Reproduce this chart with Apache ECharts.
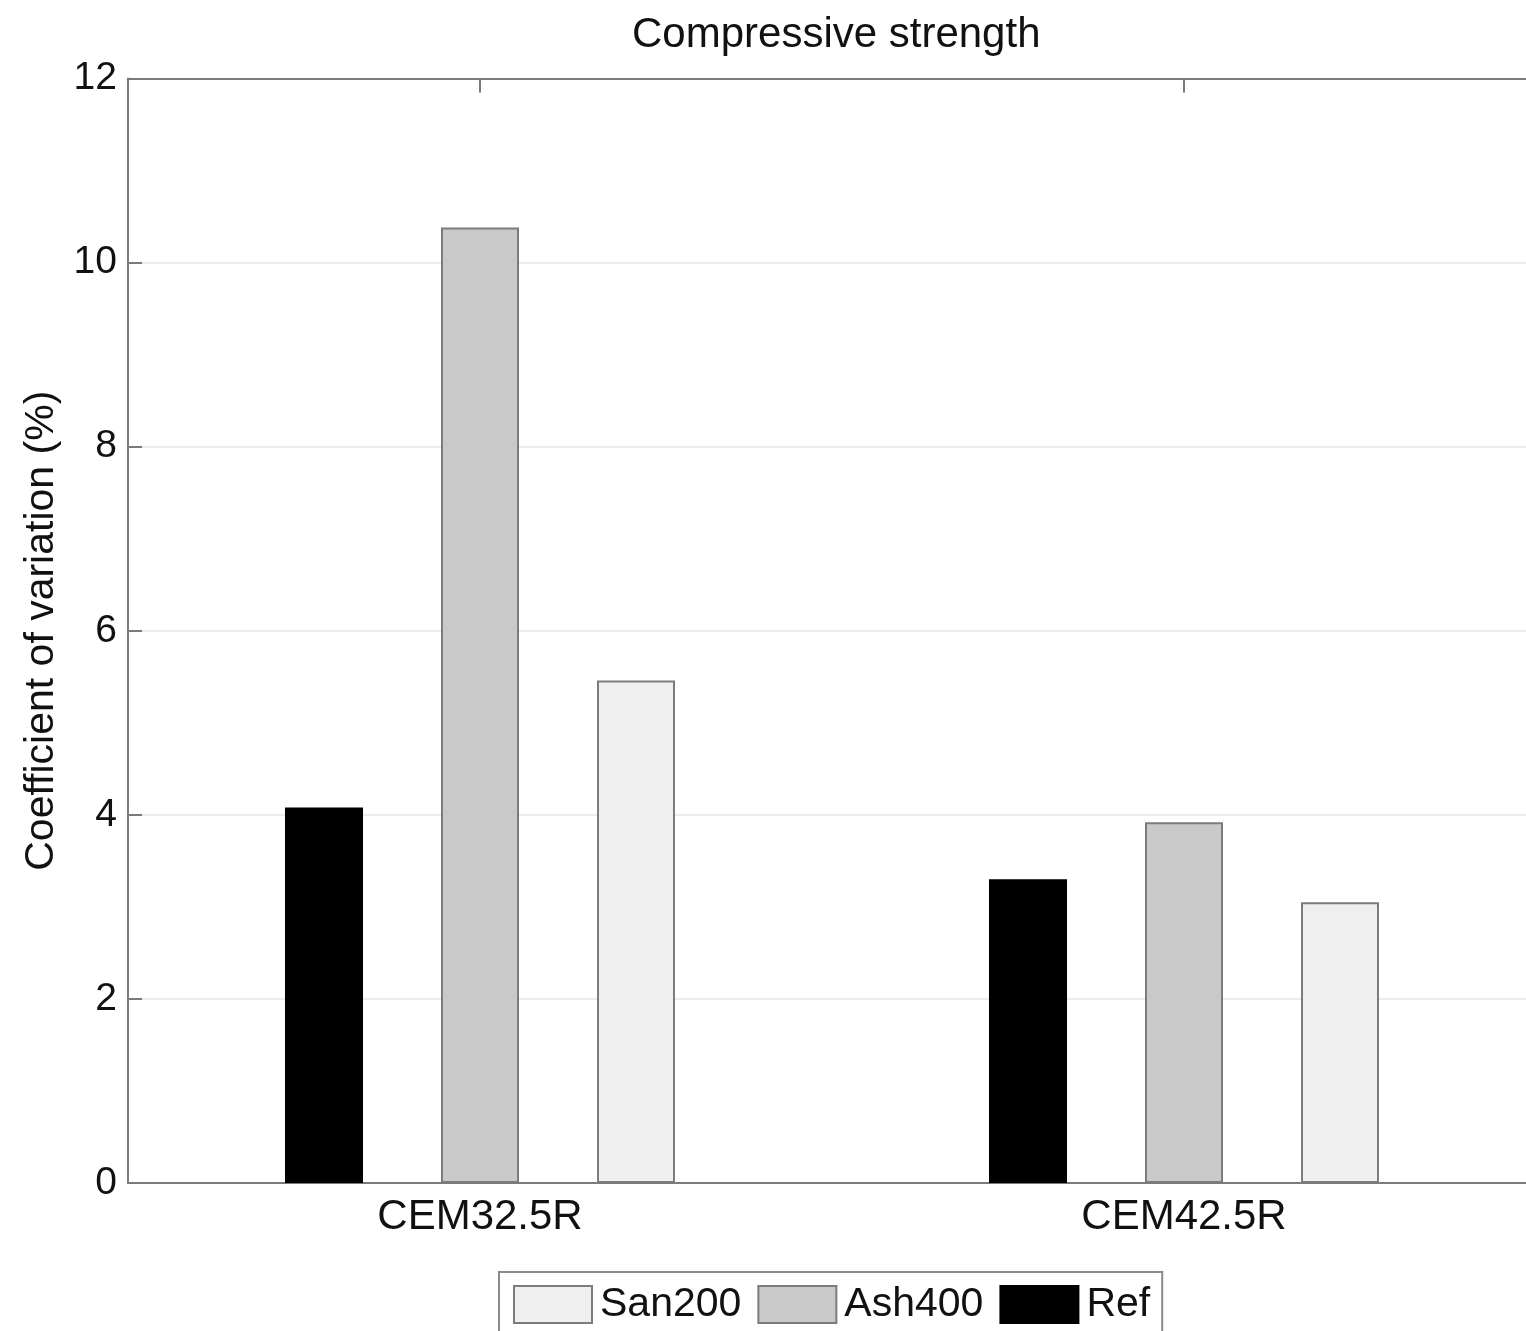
<!DOCTYPE html>
<html>
<head>
    <meta charset="UTF-8">
    <title>Compressive strength</title>
    <script src="https://cdn.jsdelivr.net/npm/echarts@6/dist/echarts.min.js"></script>
    <style>
        html, body { margin: 0; padding: 0; background: #fff; }
        #main { width: 1526px; height: 1331px; }
    </style>
</head>
<body>
<div id="main"></div>
<script>
    // data
    var categories = ['CEM32.5R', 'CEM42.5R'];
    var refValues = [4.08, 3.30];
    var ashValues = [10.38, 3.92];
    var sanValues = [5.46, 3.05];
    var legendOrder = ['San200', 'Ash400', 'Ref'];

    var font = "'Liberation Sans', Arial, sans-serif";
    var axisGray = '#7a7a7a';

    var chart = echarts.init(document.getElementById('main'));
    chart.setOption({
        backgroundColor: '#fff',
        animation: false,
        textStyle: { fontFamily: font, color: '#111' },
        title: {
            text: 'Compressive strength',
            left: 627,
            top: 9,
            textStyle: { fontFamily: font, fontSize: 42, fontWeight: 'normal', color: '#111' }
        },
        grid: {
            left: 128,
            right: -10,
            top: 78.5,
            bottom: 148,
            outerBoundsMode: 'none'
        },
        legend: {
            data: legendOrder,
            left: 499,
            top: 1272,
            orient: 'horizontal',
            itemWidth: 78,
            itemHeight: 37,
            itemGap: 16,
            padding: [12, 12, 12, 14],
            borderColor: '#8a8a8a',
            borderWidth: 2,
            icon: 'rect',
            textStyle: { fontFamily: font, fontSize: 41, color: '#111', padding: [0, 0, 0, 3] }
        },
        xAxis: [{
            type: 'category',
            data: categories,
            position: 'bottom',
            axisLine: { lineStyle: { color: axisGray, width: 2 } },
            axisTick: { show: true, inside: true, alignWithLabel: true, length: 14, lineStyle: { color: axisGray, width: 2 } },
            axisLabel: { fontFamily: font, fontSize: 42, color: '#111', margin: 13 }
        }, {
            type: 'category',
            data: categories,
            position: 'top',
            axisLine: { show: true, lineStyle: { color: axisGray, width: 2 } },
            axisTick: { show: true, inside: true, alignWithLabel: true, length: 14, lineStyle: { color: axisGray, width: 2 } },
            axisLabel: { show: false }
        }],
        yAxis: {
            type: 'value',
            min: 0,
            max: 12,
            interval: 2,
            name: 'Coefficient of variation (%)',
            nameLocation: 'middle',
            nameGap: 66,
            nameTextStyle: { fontFamily: font, fontSize: 41, color: '#111' },
            axisLine: { show: true, lineStyle: { color: axisGray, width: 2 } },
            axisTick: { show: true, inside: true, length: 14, lineStyle: { color: axisGray, width: 2 } },
            axisLabel: { fontFamily: font, fontSize: 39, color: '#111', margin: 11 },
            splitLine: { show: true, lineStyle: { color: '#ececec', width: 2 } }
        },
        series: [{
            name: 'Ref',
            type: 'bar',
            data: refValues,
            barWidth: 78,
            barGap: '100%',
            itemStyle: { color: '#000', borderColor: '#000', borderWidth: 2 }
        }, {
            name: 'Ash400',
            type: 'bar',
            data: ashValues,
            barWidth: 78,
            barGap: '100%',
            itemStyle: { color: '#c9c9c9', borderColor: '#7c7c7c', borderWidth: 2 }
        }, {
            name: 'San200',
            type: 'bar',
            data: sanValues,
            barWidth: 78,
            barGap: '100%',
            itemStyle: { color: '#efefef', borderColor: '#7c7c7c', borderWidth: 2 }
        }]
    });
</script>
</body>
</html>
